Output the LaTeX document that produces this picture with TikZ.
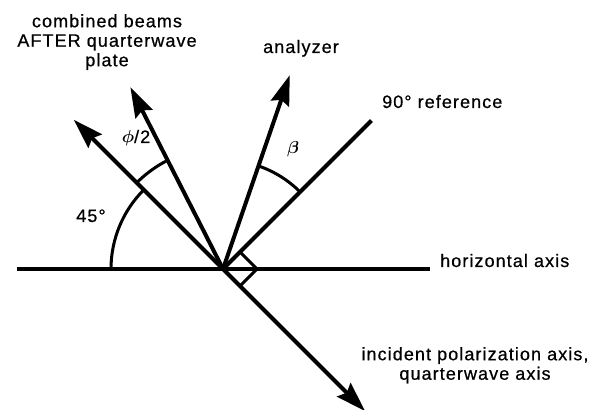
\documentclass[tikz,border=0pt]{standalone}
\usepackage{fontspec}
\usepackage{bm}
\setmainfont{Liberation Sans}
\usetikzlibrary{arrows.meta}
\begin{document}
\begin{tikzpicture}[x=1pt, y=1pt,
    every node/.style={inner sep=0pt, font=\fontsize{18}{19.5}\selectfont\addfontfeatures{LetterSpace=6, FakeBold=0.6}},
    ray/.style={line width=4pt, -{Stealth[length=30pt, width=19pt, inset=4pt]}},
    axisline/.style={line width=3.2pt},
    anglearc/.style={line width=3pt}]
    \useasboundingbox (0,0) rectangle (596,409);

    \coordinate (O) at (223,140);
    \coordinate (hleft) at (17,140);
    \coordinate (hright) at (430,140);
    \begin{scope}[shift={(O)}]
        \coordinate (tip45) at (135:211);
        \coordinate (tipbeams) at (117:204);
        \coordinate (tipanalyzer) at (71:205);
        \coordinate (refend) at (45:210);
        \coordinate (tipincident) at (-45:201);
        \coordinate (sqa) at (45:24);
        \coordinate (sqb) at (0:33.94);
        \coordinate (sqc) at (-45:24);
    \end{scope}

    % axes and rays
    \draw[axisline] (hleft) -- (hright);
    \draw[line width=4pt] (O) -- (refend);
    \draw[ray] (O) -- (tip45);
    \draw[ray] (O) -- (tipbeams);
    \draw[ray] (O) -- (tipanalyzer);
    \draw[ray] (O) -- (tipincident);

    % right angle mark
    \draw[anglearc] (sqa) -- (sqb) -- (sqc);

    % angle arcs
    \begin{scope}[shift={(O)}]
        \draw[anglearc] (180:112) arc[start angle=180, end angle=135, radius=112];
        \draw[anglearc] (135:122) arc[start angle=135, end angle=117, radius=122];
        \draw[anglearc] (71:109) arc[start angle=71, end angle=45, radius=109];
    \end{scope}

    % labels
    \node (beamslbl) [anchor=north, align=center] at (107,395) {combined beams\\AFTER quarterwave\\plate};
    \node (analyzerlbl) [anchor=base] at (301,356) {analyzer};
    \node (reflbl) [anchor=base west] at (382,301) {90° reference};
    \node (horizlbl) [anchor=base west] at (440,142) {horizontal axis};
    \node (incidentlbl) [anchor=north, align=center] at (475,62) {incident polarization axis,\\quarterwave axis};
    \node (anglelbl) [anchor=base] at (91,187) {45°};
    \node (philbl) [anchor=base] at (136,266) {$\bm{\phi}$/2};
    \node (betalbl) [anchor=base] at (293,255) {$\bm{\beta}$};
\end{tikzpicture}
\end{document}
